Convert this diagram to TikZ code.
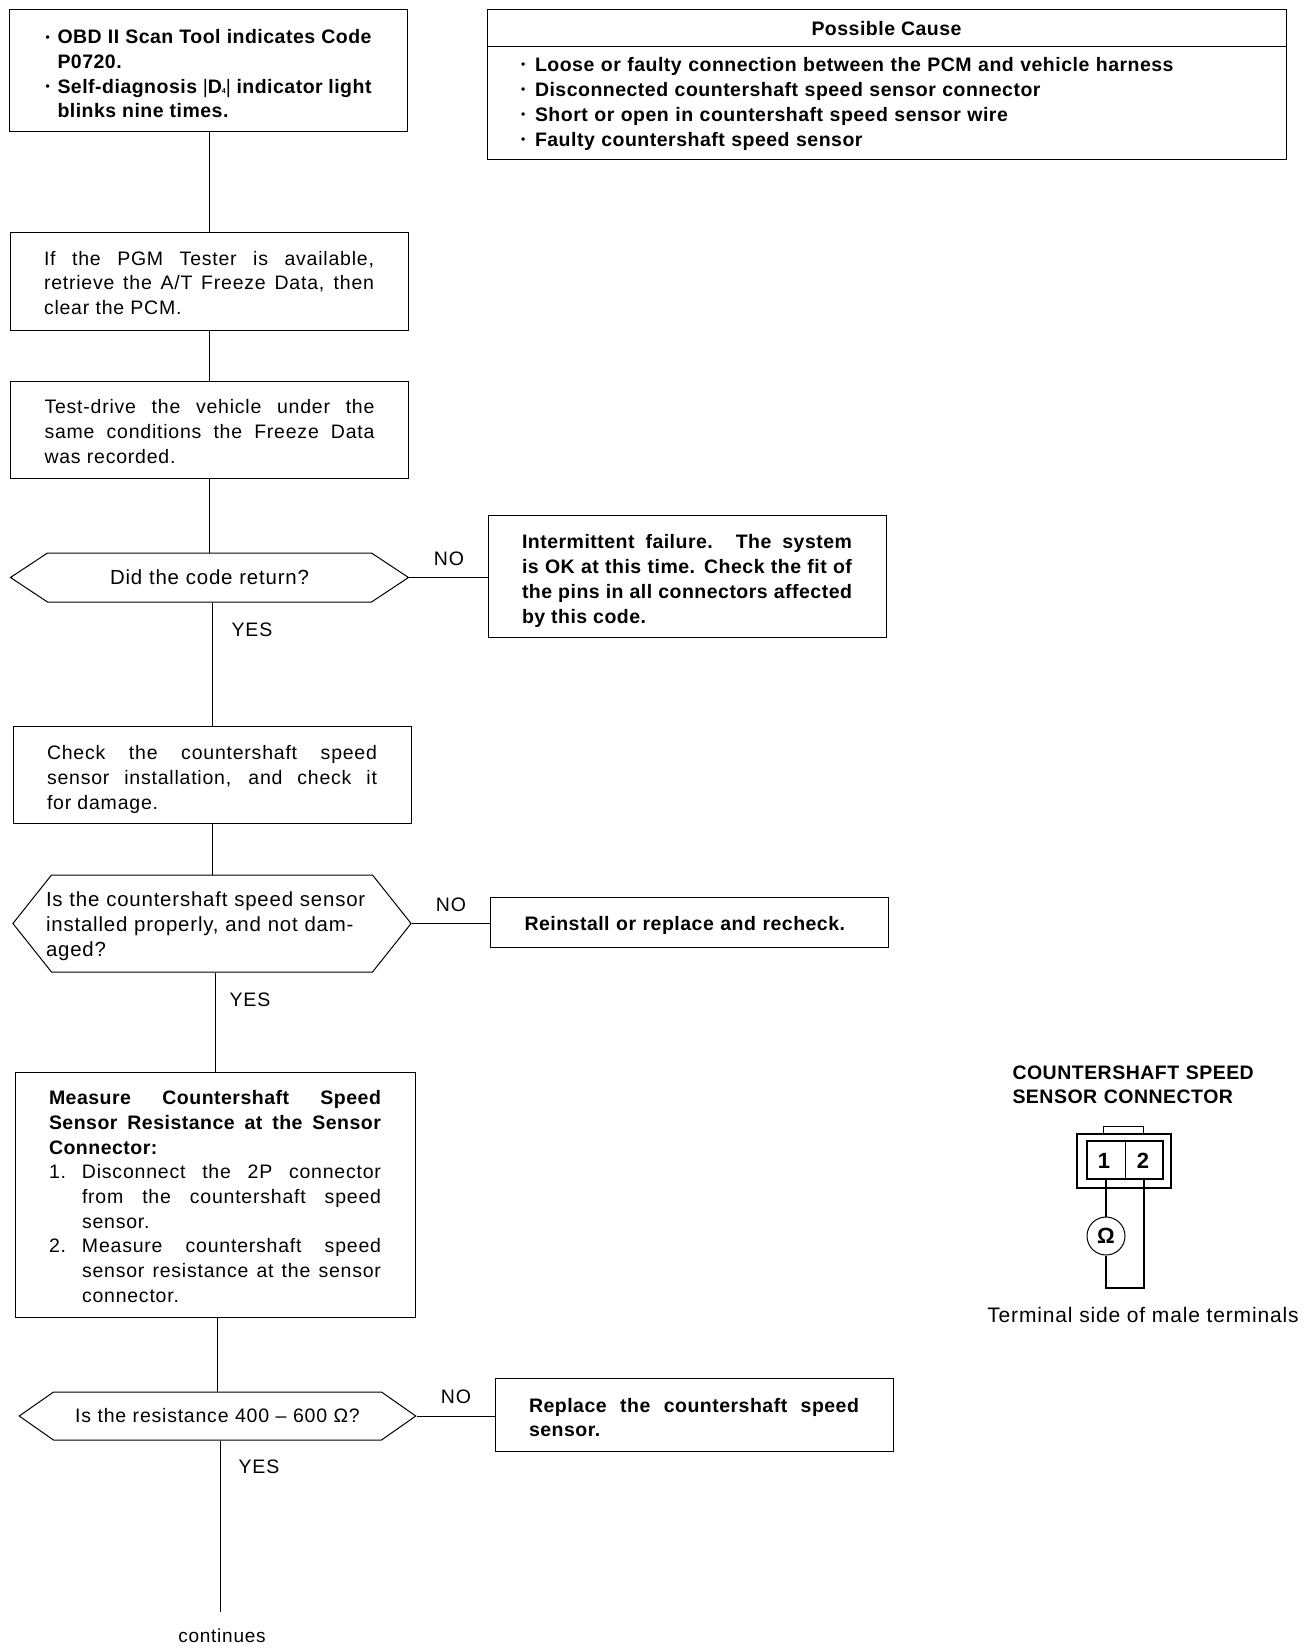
\documentclass[tikz,border=0pt]{standalone}
\usepackage{fontspec}
\setmainfont[LetterSpace=4,BoldFeatures={LetterSpace=2.5}]{Liberation Sans}
\usetikzlibrary{shapes.symbols}
\newcommand{\bul}{\raisebox{2.5pt}{\fontsize{12pt}{12pt}\selectfont •}}
\begin{document}
\begin{tikzpicture}[x=1pt, y=-1pt, line width=1pt,
    every node/.style={font=\fontsize{19.5pt}{24.7pt}\selectfont},
    stepbox/.style={rectangle, draw, text width=#1, align=justify, inner xsep=34pt, inner ysep=0pt},
    stepbox/.default=330pt,
    boldtext/.style={font=\fontsize{19.5pt}{24.7pt}\bfseries},
    widetext/.style={font=\fontsize{20.4pt}{24.7pt}\selectfont},
    textdown/.style={execute at begin node={\rule{0pt}{\dimexpr 14pt+#1\relax}}},
    decision/.style={signal, signal to=east and west, signal pointer angle=#1, draw, text width=332pt, align=left, inner ysep=0pt},
    lbl/.style={inner sep=0pt}]
  \useasboundingbox (0,0) rectangle (1312,1648);

  \node[stepbox=326pt, minimum height=122pt, inner xsep=36pt, boldtext, textdown=6pt] (scan) at (208.5,71)
    {\makebox[12pt][l]{\bul}OBD II Scan Tool indicates Code\linebreak\hspace*{12pt}P0720.\\
     \makebox[12pt][l]{\bul}Self-diagnosis {\mdseries|}D{\scriptsize 4}{\mdseries|} indicator light\linebreak\hspace*{12pt}blinks nine times.};
  \node[rectangle, draw, minimum width=799pt, minimum height=37pt, inner sep=0pt, boldtext] (causehead) at (886.5,28.5) {Possible Cause};
  \node[rectangle, draw, text width=731pt, align=left, inner xsep=34pt, inner ysep=0pt, minimum height=113pt, font=\fontsize{19.5pt}{25pt}\bfseries] (causebody) at (886.5,103.5)
    {\makebox[14pt][l]{\bul}Loose or faulty connection between the PCM and vehicle harness\\
     \makebox[14pt][l]{\bul}Disconnected countershaft speed sensor connector\\
     \makebox[14pt][l]{\bul}Short or open in countershaft speed sensor wire\\
     \makebox[14pt][l]{\bul}Faulty countershaft speed sensor};

  \node[stepbox, minimum height=98pt, textdown=4pt] (tester) at (209,281)
    {If the PGM Tester is available,\linebreak retrieve the A/T Freeze Data, then\linebreak clear the PCM.};
  \node[stepbox, minimum height=97pt, textdown=4pt] (drive) at (209.5,429.5)
    {Test-drive the vehicle under the\linebreak same conditions the Freeze Data\linebreak was recorded.};
  \node[decision=67, inner xsep=-4pt, minimum height=49pt, align=center, widetext] (codeback) at (209.5,577.5) {Did the code return?};
  \node[stepbox, minimum height=122pt, boldtext, textdown=10pt] (intermit) at (687,576)
    {Intermittent failure. The system\linebreak is OK at this time. Check the fit of\linebreak the pins in all connectors affected\linebreak by this code.};

  \node[stepbox, minimum height=97pt, textdown=10pt] (install) at (212,774.5)
    {Check the countershaft speed\linebreak sensor installation, and check it\linebreak for damage.};
  \node[decision=103, inner xsep=-5.5pt, minimum height=97pt, widetext, textdown=6pt] (installok) at (212,923.5)
    {Is the countershaft speed sensor\\installed properly, and not dam-\\aged?};
  \node[stepbox, minimum height=50pt, boldtext, align=left, textdown=8pt] (reinstall) at (689.5,922)
    {Reinstall or replace and recheck.};

  \node[stepbox=332pt, minimum height=245pt, textdown=4pt] (measure) at (215,1194.5)
    {\textbf{Measure Countershaft Speed\linebreak Sensor Resistance at the Sensor\linebreak Connector:}\\
     \makebox[33pt][l]{1.}Disconnect the 2P connector\linebreak\hspace*{33pt}from the countershaft speed\linebreak\hspace*{33pt}sensor.\\
     \makebox[33pt][l]{2.}Measure countershaft speed\linebreak\hspace*{33pt}sensor resistance at the sensor\linebreak\hspace*{33pt}connector.};
  \node[decision=70, inner xsep=-2pt, minimum height=48pt, align=center] (resist) at (217.5,1416) {Is the resistance 400 – 600 Ω?};
  \node[stepbox, minimum height=73pt, boldtext, textdown=6pt] (replace) at (694,1414.5)
    {Replace the countershaft speed\linebreak sensor.};

  \node[inner sep=0pt, font=\fontsize{19pt}{22pt}\selectfont] (contd) at (222,1636) {continues};
  \coordinate (contdtop) at (220,1612);

  % yes / no labels
  \node[lbl] (no1) at (449,559) {NO};
  \node[lbl] (yes1) at (252,630) {YES};
  \node[lbl] (no2) at (451,905) {NO};
  \node[lbl] (yes2) at (250,1000) {YES};
  \node[lbl] (no3) at (456,1397) {NO};
  \node[lbl] (yes3) at (259,1467) {YES};

  \draw (tester |- scan.south) -- (tester.north);
  \draw (drive |- tester.south) -- (drive.north);
  \draw (codeback |- drive.south) -- (codeback.north);
  \draw (install |- codeback.south) -- (install.north);
  \draw (installok |- install.south) -- (installok.north);
  \draw (measure |- installok.south) -- (measure.north);
  \draw (resist |- measure.south) -- (resist.north);
  \draw (contdtop |- resist.south) -- (contdtop);
  \draw (codeback.east) -- (codeback.east -| intermit.west);
  \draw (installok.east) -- (installok.east -| reinstall.west);
  \draw (resist.east) -- (resist.east -| replace.west);

  % sensor connector
  \node[lbl, boldtext, text width=270pt, align=left, anchor=north west] (conntitle) at (1012,1065)
    {COUNTERSHAFT SPEED\\SENSOR CONNECTOR};
  \draw (1103,1134) -- (1103,1126) -- (1143,1126) -- (1143,1134);
  \node[rectangle, draw, minimum width=94pt, minimum height=54pt, line width=1.5pt, inner sep=0pt] (connbody) at (1124,1161) {};
  \node[rectangle, draw, minimum width=76pt, minimum height=38pt, line width=1.5pt, inner sep=0pt] (connpins) at (1125,1160) {};
  \node[lbl, font=\fontsize{22pt}{24pt}\bfseries] (pin1) at (1104,1160.5) {1};
  \node[lbl, font=\fontsize{22pt}{24pt}\bfseries] (pin2) at (1143,1160.5) {2};
  \draw[line width=0.7pt] (connpins.north) -- (connpins.south);
  \node[circle, draw, minimum size=38pt, inner sep=0pt, font=\fontsize{22pt}{24pt}\bfseries] (meter) at (1106,1236) {Ω};
  \coordinate (wire1) at (connpins.south -| meter);
  \coordinate (wire2) at (1144,1179);
  \coordinate (wire3) at (1144,1288);
  \coordinate (wire4) at (1106,1288);
  \draw[line width=1.5pt] (wire1) -- (meter);
  \draw[line width=1.5pt] (meter) -- (wire4) -- (wire3) -- (wire2);
  \node[lbl, font=\fontsize{21pt}{24pt}\selectfont] (connnote) at (1143,1315) {Terminal side of male terminals};
\end{tikzpicture}
\end{document}
